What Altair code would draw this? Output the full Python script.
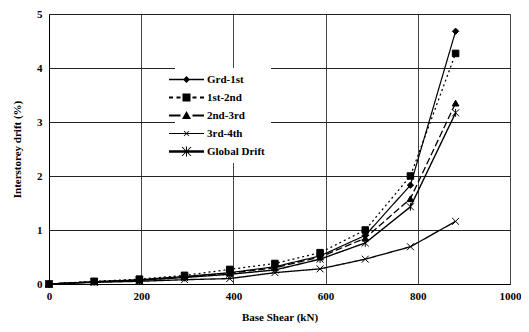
import altair as alt
import pandas as pd

# ---- data ----
base_shear = [0, 98, 196, 294, 392, 490, 588, 686, 784, 882]
series = ["Grd-1st", "1st-2nd", "2nd-3rd", "3rd-4th", "Global Drift"]
grd_1st = [0, 0.04, 0.08, 0.14, 0.21, 0.32, 0.52, 0.90, 1.83, 4.68]
st1_2nd = [0, 0.05, 0.09, 0.16, 0.27, 0.38, 0.58, 1.00, 2.00, 4.27]
nd2_3rd = [0, 0.04, 0.07, 0.13, 0.20, 0.30, 0.50, 0.85, 1.58, 3.35]
rd3_4th = [0, 0.03, 0.05, 0.08, 0.10, 0.21, 0.28, 0.46, 0.69, 1.16]
global_drift = [0, 0.04, 0.07, 0.12, 0.18, 0.26, 0.46, 0.76, 1.43, 3.17]
x_ticks = [0, 200, 400, 600, 800, 1000]
y_ticks = [0, 1, 2, 3, 4, 5]

values = [grd_1st, st1_2nd, nd2_3rd, rd3_4th, global_drift]
rows = []
for name, vals in zip(series, values):
    for xv, yv in zip(base_shear, vals):
        rows.append({"series": name, "x": xv, "y": yv})
df = pd.DataFrame(rows)

FONT = "Liberation Serif"


# ---- legend symbol paths (line + marker), 1 unit = 1px at size 4 ----
def _poly(pts):
    a = 0
    for i in range(len(pts)):
        x0, y0 = pts[i]
        x1, y1 = pts[(i + 1) % len(pts)]
        a += x0 * y1 - x1 * y0
    if a < 0:
        pts = pts[::-1]
    return "M" + "L".join(f"{p[0]:.2f},{p[1]:.2f}" for p in pts) + "Z"


def _seg(x0, y0, x1, y1, w):
    dx, dy = x1 - x0, y1 - y0
    ln = (dx * dx + dy * dy) ** 0.5
    nx, ny = -dy / ln * w / 2, dx / ln * w / 2
    return _poly([(x0 + nx, y0 + ny), (x1 + nx, y1 + ny), (x1 - nx, y1 - ny), (x0 - nx, y0 - ny)])


L = 17.5
leg_grd = _seg(-L, 0, L, 0, 1.3) + _poly([(0, -3.5), (3.5, 0), (0, 3.5), (-3.5, 0)])
leg_1st = (_seg(-L, 0, -13.5, 0, 2) + _seg(-10, 0, -6, 0, 2) + _seg(6, 0, 10, 0, 2)
           + _seg(13.5, 0, L, 0, 2) + _poly([(-4, -4), (4, -4), (4, 4), (-4, 4)]))
leg_2nd = _seg(-L, 0, -6, 0, 2) + _seg(6, 0, L, 0, 2) + _poly([(0, -4.5), (4.5, 3.5), (-4.5, 3.5)])
leg_3rd = (_seg(-L, 0, L, 0, 0.9) + _seg(-2.5, -2.5, 2.5, 2.5, 0.8) + _seg(-2.5, 2.5, 2.5, -2.5, 0.8))
leg_glb = (_seg(-L, 0, L, 0, 2.4) + _seg(-4.5, -4.5, 4.5, 4.5, 1.0)
           + _seg(-4.5, 4.5, 4.5, -4.5, 1.0) + _seg(0, -5, 0, 5, 1.0))
legend_paths = [leg_grd, leg_1st, leg_2nd, leg_3rd, leg_glb]

X_PATH = "M-1,-1L1,1M-1,1L1,-1"
AST_PATH = "M-1,-1L1,1M-1,1L1,-1M0,-1.1L0,1.1"

xenc = alt.X("x:Q", scale=alt.Scale(domain=[0, 1000], nice=False), axis=alt.Axis(
    values=x_ticks, format="d", labelFlush=False, title="Base Shear (kN)", grid=True,
    gridColor="#444", ticks=False, labelFontWeight="bold", labelFontSize=11, labelPadding=6,
    titleFontSize=11, titleFontWeight="bold", titlePadding=10, domainColor="black",
    labelFont=FONT, titleFont=FONT))
yenc = alt.Y("y:Q", scale=alt.Scale(domain=[0, 5], nice=False), axis=alt.Axis(
    values=y_ticks, format="d", labelFlush=False, title="Interstorey drift (%)", grid=True,
    gridColor="#222", ticks=False, labelFontWeight="bold", labelFontSize=11, labelPadding=7,
    titleFontSize=11, titleFontWeight="bold", titlePadding=14, domainColor="black",
    labelFont=FONT, titleFont=FONT))

lines = alt.Chart(df).mark_line(color="black").encode(
    x=xenc, y=yenc,
    detail="series:N",
    strokeDash=alt.StrokeDash("series:N", scale=alt.Scale(
        domain=series, range=[[1, 0], [2, 3], [7, 3], [1, 0], [1, 0]]), legend=None),
    strokeWidth=alt.StrokeWidth("series:N", scale=alt.Scale(
        domain=series, range=[1.2, 1.4, 1.4, 0.8, 2.2]), legend=None),
)

points = alt.Chart(df).mark_point(fill="black", stroke="black", strokeWidth=1, opacity=1).encode(
    x=xenc, y=yenc,
    shape=alt.Shape("series:N", scale=alt.Scale(
        domain=series, range=["diamond", "square", "triangle-up", X_PATH, AST_PATH]), legend=None),
    size=alt.Size("series:N", scale=alt.Scale(
        domain=series, range=[40, 50, 50, 30, 80]), legend=None),
)

leg_props = dict(
    title=None, orient="none", legendX=126, legendY=54, fillColor="white",
    padding=6, labelFont=FONT, labelFontSize=11, labelFontWeight="bold",
    labelColor="black", labelOffset=15, rowPadding=6.0, symbolSize=4,
    symbolStrokeWidth=0, symbolOpacity=1,
)

legend_layer = alt.Chart(df).transform_filter("datum.y < -100").mark_point(
    filled=True, size=4, opacity=1).encode(
    x=xenc, y=yenc,
    shape=alt.Shape("series:N", scale=alt.Scale(domain=series, range=legend_paths),
                    legend=alt.Legend(**leg_props)),
    fill=alt.Fill("series:N", scale=alt.Scale(
        domain=series, range=["black", "black", "black", "#777777", "black"]),
        legend=alt.Legend(**leg_props)),
)

chart = alt.layer(lines, points, legend_layer).resolve_scale(
    shape="independent", size="independent"
).properties(
    width=461, height=270,
    autosize=alt.AutoSizeParams(type="none"),
    padding={"left": 41, "top": 6, "right": 11, "bottom": 40},
).configure_view(stroke="black", strokeWidth=1).configure(background="white")

chart.save("out.html", embed_options={"renderer": "svg", "actions": False})
